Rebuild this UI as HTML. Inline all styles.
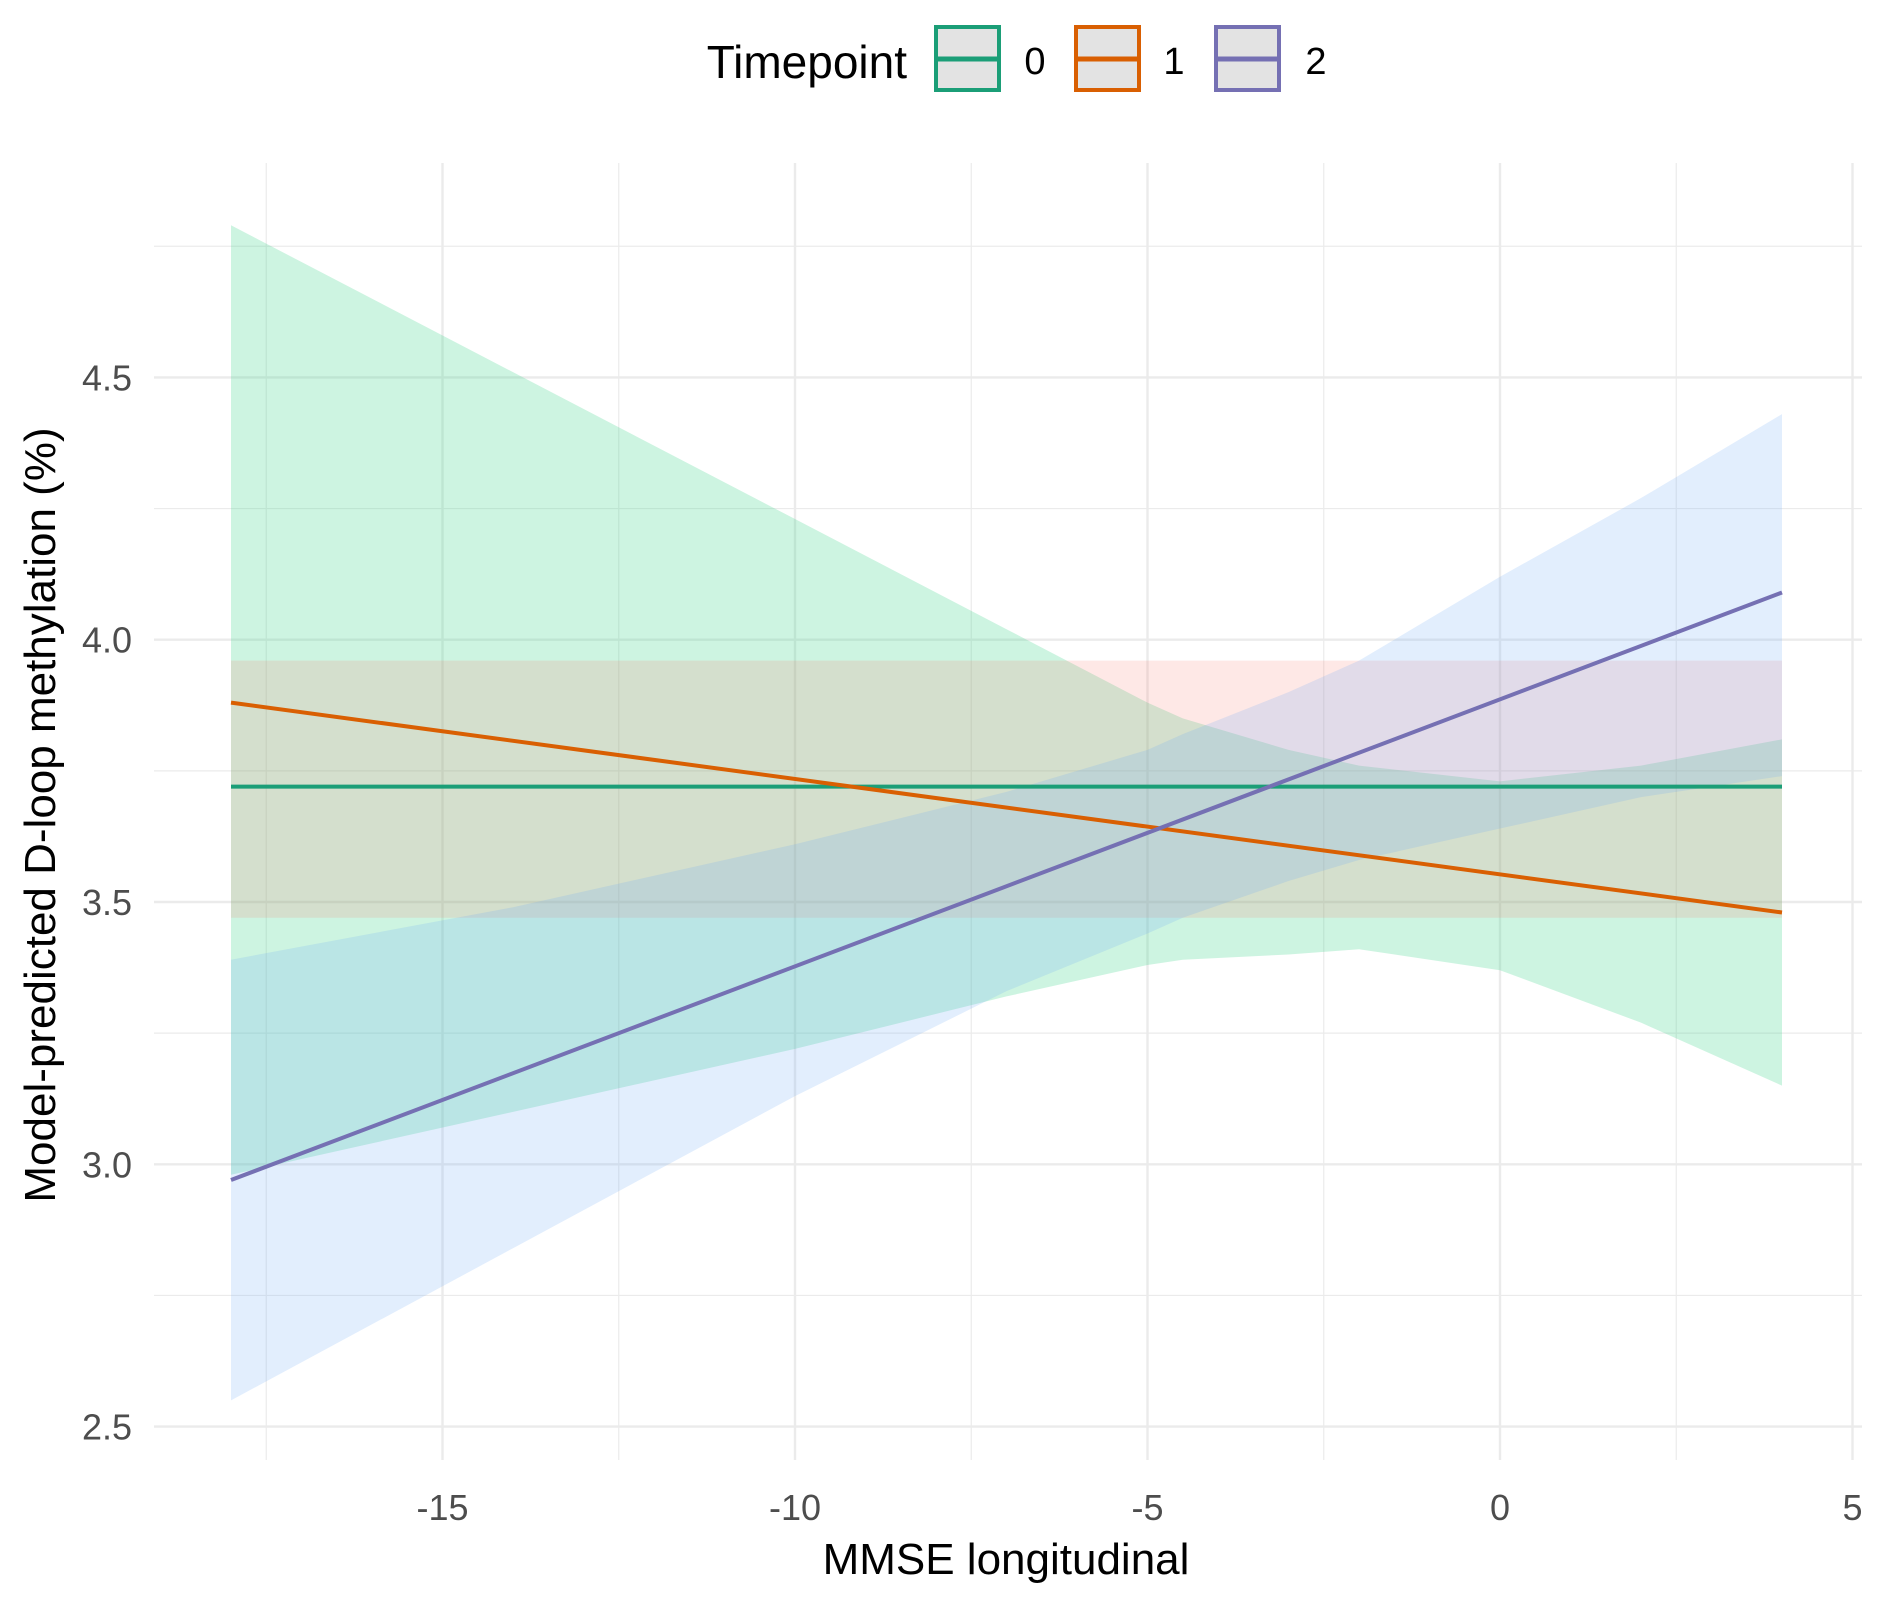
<!DOCTYPE html>
<html><head><meta charset="utf-8"><style>
html,body{margin:0;padding:0;background:#fff;}
svg{display:block;font-family:"Liberation Sans",sans-serif;}
</style></head><body>
<svg id="chart" width="1888" height="1599" viewBox="0 0 1888 1599" xmlns="http://www.w3.org/2000/svg">
<g id="grid"></g>
<g id="ribbons"></g>
<g id="lines"></g>
<g id="ticks"></g>
<text x="1006" y="1574" font-size="44" text-anchor="middle" fill="#000">MMSE longitudinal</text>
<text transform="translate(55,815) rotate(-90)" font-size="44" text-anchor="middle" fill="#000">Model-predicted D-loop methylation (%)</text>
<g>
<text x="907" y="78" font-size="46" text-anchor="end" fill="#000">Timepoint</text>
<g><rect x="936" y="27" width="63" height="63" fill="#e3e3e3" stroke="#1b9e77" stroke-width="4"/><line x1="938" y1="59" x2="997" y2="59" stroke="#1b9e77" stroke-width="5"/><text x="1035" y="74" font-size="38" text-anchor="middle">0</text></g>
<g><rect x="1076" y="27" width="63" height="63" fill="#e3e3e3" stroke="#d95f02" stroke-width="4"/><line x1="1078" y1="59" x2="1137" y2="59" stroke="#d95f02" stroke-width="5"/><text x="1174" y="74" font-size="38" text-anchor="middle">1</text></g>
<g><rect x="1216" y="27" width="63" height="63" fill="#e3e3e3" stroke="#7570b3" stroke-width="4"/><line x1="1218" y1="59" x2="1277" y2="59" stroke="#7570b3" stroke-width="5"/><text x="1316" y="74" font-size="38" text-anchor="middle">2</text></g>
</g>
</svg>
<script>
const xTicks=[-15,-10,-5,0,5];
const yTicks=[2.5,3.0,3.5,4.0,4.5];
const yTickLabels=["2.5","3.0","3.5","4.0","4.5"];
const ribX=[-18,-14,-10,-7,-5,-4.5,-3,-2,0,2,4];
const rib0Upper=[4.79,4.51,4.23,4.02,3.88,3.85,3.79,3.76,3.73,3.76,3.81];
const rib0Lower=[2.98,3.10,3.22,3.32,3.38,3.39,3.40,3.41,3.37,3.27,3.15];
const rib1Upper=[3.96,3.96,3.96,3.96,3.96,3.96,3.96,3.96,3.96,3.96,3.96];
const rib1Lower=[3.47,3.47,3.47,3.47,3.47,3.47,3.47,3.47,3.47,3.47,3.47];
const rib2Upper=[3.39,3.49,3.61,3.71,3.79,3.82,3.90,3.96,4.12,4.27,4.43];
const rib2Lower=[2.55,2.84,3.13,3.33,3.44,3.47,3.54,3.58,3.64,3.70,3.74];
const lineX=[-18,4];
const line0=[3.72,3.72];
const line1=[3.88,3.48];
const line2=[2.97,4.09];
const NS="http://www.w3.org/2000/svg";
function sx(v){return 1500+v*70.5;}
function sy(v){return 639.7-(v-4.0)*524.6;}
function mk(tag,attrs,parent){const e=document.createElementNS(NS,tag);for(const k in attrs)e.setAttribute(k,attrs[k]);parent.appendChild(e);return e;}
const grid=document.getElementById('grid');
const L=154,R=1862,T=163,B=1460;
for(let v=-17.5;v<=5;v+=2.5){const major=xTicks.includes(v);
 const g=mk('line',{x1:sx(v),x2:sx(v),y1:T,y2:B,stroke:'#ebebeb','stroke-width':major?2.4:1.2},grid);
 
 }
for(let v=2.5;v<=4.76;v+=0.25){const major=Math.abs(v*2-Math.round(v*2))<1e-6;
 const g=mk('line',{x1:L,x2:R,y1:sy(v),y2:sy(v),stroke:'#ebebeb','stroke-width':major?2.4:1.2},grid);
 
 }
const rib=document.getElementById('ribbons');
function ribbon(up,lo,fill,op,name){let d='M';ribX.forEach((x,i)=>{d+=(i?' L':'')+sx(x)+','+sy(up[i]);});
 for(let i=ribX.length-1;i>=0;i--)d+=' L'+sx(ribX[i])+','+sy(lo[i]);d+=' Z';
 const p=mk('path',{d:d,fill:fill,'fill-opacity':op},rib);
 
 }
ribbon(rib0Upper,rib0Lower,'#3ed38a',0.26,'ribbon-timepoint-0');
ribbon(rib1Upper,rib1Lower,'#f8766d',0.17,'ribbon-timepoint-1');
ribbon(rib2Upper,rib2Lower,'#6fa8f5',0.2,'ribbon-timepoint-2');
const lines=document.getElementById('lines');
function ln(vals,col,name){const l=mk('line',{x1:sx(lineX[0]),y1:sy(vals[0]),x2:sx(lineX[1]),y2:sy(vals[1]),stroke:col,'stroke-width':4},lines);
 
 }
ln(line0,'#1b9e77','line-timepoint-0');
ln(line1,'#d95f02','line-timepoint-1');
ln(line2,'#7570b3','line-timepoint-2');
const tk=document.getElementById('ticks');
xTicks.forEach(v=>{const t=mk('text',{x:sx(v),y:1520,'font-size':36,'text-anchor':'middle',fill:'#4d4d4d'},tk);t.textContent=String(v);
 
 });
yTicks.forEach((v,i)=>{const t=mk('text',{x:132,y:sy(v)+13,'font-size':36,'text-anchor':'end',fill:'#4d4d4d'},tk);t.textContent=yTickLabels[i];
 
 });
</script>
</body></html>
